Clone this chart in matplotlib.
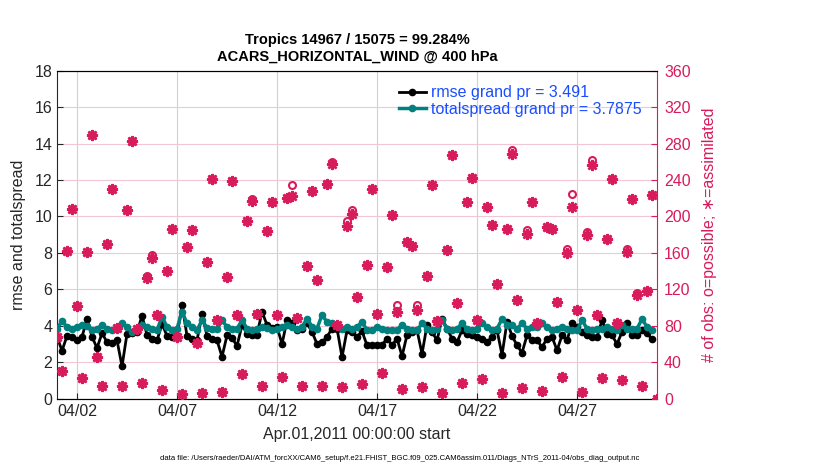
import matplotlib
matplotlib.use("Agg")
import matplotlib.pyplot as plt
import matplotlib.dates as mdates
import numpy as np
import pandas as pd

plt.rcParams['font.family'] = ['Liberation Sans', 'DejaVu Sans']

# 6-hourly bins, Apr 01 00Z .. May 01 00Z
times = pd.date_range("2011-04-01 00:00", "2011-05-01 00:00", freq="6h")

rmse = [3.40, 2.63, 3.45, 3.40, 3.20, 3.40, 4.37, 3.40, 2.78, 3.60,
        3.10, 3.07, 3.20, 1.78, 3.57, 3.60, 3.65, 4.55, 3.50, 3.30,
        3.20, 4.10, 3.45, 3.40, 3.44, 5.15, 3.45, 3.30, 3.20, 4.65,
        3.45, 3.30, 3.20, 2.30, 3.48, 3.33, 2.90, 4.04, 3.57, 3.50,
        3.50, 4.78, 4.04, 3.90, 3.94, 3.00, 4.30, 4.13, 3.76, 3.85,
        4.13, 3.67, 3.00, 3.10, 3.40, 3.85, 3.85, 2.28, 3.76, 3.67,
        3.40, 3.70, 2.93, 2.93, 2.93, 2.95, 3.30, 2.93, 3.30, 2.33,
        3.50, 3.67, 3.76, 2.46, 4.04, 3.67, 3.20, 4.40, 3.85, 3.30,
        3.10, 3.76, 3.57, 3.48, 3.40, 3.30, 3.10, 3.40, 3.76, 2.40,
        4.22, 3.45, 2.93, 2.52, 3.48, 3.20, 3.20, 2.83, 3.30, 3.40,
        2.65, 3.48, 3.20, 4.13, 3.94, 3.67, 3.48, 3.40, 3.40, 4.30,
        3.57, 3.48, 3.00, 3.67, 4.13, 3.48, 3.48, 3.76, 3.60, 3.25,
        np.nan]

totalspread = [3.85, 4.26, 3.94, 3.85, 3.94, 4.07, 4.00, 3.76, 3.85, 4.04,
               3.85, 3.76, 3.85, 4.13, 3.94, 3.67, 3.85, 4.07, 3.94, 3.85,
               3.76, 4.50, 3.94, 3.76, 3.85, 4.78, 4.13, 3.94, 3.76, 4.30,
               3.90, 3.85, 3.82, 4.30, 3.94, 3.85, 3.85, 4.30, 3.85, 3.76,
               3.85, 3.94, 3.90, 3.76, 3.85, 3.94, 4.04, 3.94, 3.85, 3.94,
               4.40, 3.94, 3.85, 4.60, 4.20, 4.13, 4.04, 3.85, 3.94, 3.85,
               3.94, 4.22, 3.76, 3.76, 3.94, 3.85, 3.76, 3.76, 3.76, 4.07,
               3.85, 3.76, 3.76, 4.13, 3.85, 3.76, 3.85, 4.30, 3.85, 3.76,
               3.85, 4.13, 3.85, 3.76, 3.85, 4.13, 3.94, 3.76, 3.85, 4.37,
               4.07, 4.04, 3.85, 4.13, 3.85, 3.94, 3.94, 4.13, 3.94, 3.76,
               3.85, 3.94, 3.85, 3.76, 3.76, 4.30, 3.85, 3.76, 3.85, 3.85,
               3.94, 3.85, 3.76, 4.04, 3.85, 3.85, 3.85, 4.37, 3.94, 3.77,
               np.nan]

obs_used = [68, 30, 162, 208, 102, 23, 161, 289, 46, 14,
            170, 230, 78, 14, 207, 283, 76, 17, 132, 154,
            92, 10, 140, 186, 68, 5, 166, 185, 61, 6,
            150, 241, 86, 7, 134, 239, 92, 27, 195, 217,
            93, 14, 184, 216, 92, 24, 220, 223, 89, 14,
            146, 228, 130, 14, 236, 258, 81, 13, 190, 203,
            112, 16, 147, 230, 93, 28, 145, 202, 95, 11,
            172, 168, 97, 13, 135, 235, 85, 6, 163, 268,
            105, 17, 216, 242, 86, 22, 210, 191, 126, 6,
            186, 269, 108, 12, 181, 216, 83, 9, 188, 186,
            106, 24, 160, 210, 97, 7, 180, 256, 92, 23,
            175, 241, 83, 20, 161, 219, 114, 14, 118, 224,
            0]

obs_possible = [68, 30, 162, 208, 102, 23, 161, 289, 46, 14,
                170, 230, 78, 14, 207, 283, 76, 17, 135, 158,
                92, 10, 140, 186, 68, 5, 166, 185, 61, 6,
                150, 241, 86, 7, 134, 239, 92, 27, 195, 219,
                93, 14, 184, 216, 92, 24, 220, 234, 89, 14,
                146, 228, 130, 14, 236, 260, 81, 13, 195, 207,
                112, 16, 147, 230, 93, 28, 145, 202, 103, 11,
                172, 168, 103, 13, 135, 235, 85, 6, 163, 268,
                105, 17, 216, 242, 86, 22, 210, 191, 126, 6,
                186, 273, 108, 12, 185, 216, 83, 9, 188, 186,
                106, 24, 164, 225, 97, 7, 183, 262, 92, 23,
                175, 241, 83, 20, 164, 219, 116, 14, 118, 224,
                0]

tick_days = ["2011-04-02", "2011-04-07", "2011-04-12", "2011-04-17",
             "2011-04-22", "2011-04-27"]

rmse_label = "rmse grand pr = 3.491"
spread_label = "totalspread grand pr = 3.7875"
title_text = "Tropics 14967 / 15075 = 99.284%\nACARS_HORIZONTAL_WIND @ 400 hPa"
datafile = ("data file: /Users/raeder/DAI/ATM_forcXX/CAM6_setup/"
            "f.e21.FHIST_BGC.f09_025.CAM6assim.011/Diags_NTrS_2011-04/obs_diag_output.nc")

obs_color = "#d81b5a"
teal = "#00807e"
dark = "#262626"

fig = plt.figure(figsize=(8.3, 4.7), dpi=100)
ax = fig.add_axes([0.0687, 0.1517, 0.7229, 0.6979])
ax2 = ax.twinx()

# obs counts on right axis: o = possible, asterisk = assimilated
ax2.plot(times, obs_possible, linestyle="none", marker="o", markersize=5,
         mfc="none", mec=obs_color, mew=1.5, zorder=2)
ax2.plot(times, obs_used, linestyle="none", marker=(8, 2, 0), markersize=8,
         color=obs_color, mew=1.8, zorder=3)
ax2.plot(times, obs_used, linestyle="none", marker="o", markersize=5,
         color=obs_color, mew=0, zorder=3)

l1, = ax.plot(times, rmse, color="black", linewidth=2, marker="o",
              markersize=4.5, label=rmse_label, zorder=3)
l2, = ax.plot(times, totalspread, color=teal, linewidth=2.5, marker="o",
              markersize=4.5, label=spread_label, zorder=4)

ax.set_xlim(times[0], times[-1])
ax.set_ylim(0, 18)
ax.set_yticks(np.arange(0, 19, 2))
ax2.set_ylim(0, 360)
ax2.set_yticks(np.arange(0, 361, 40))

ax.set_xticks(pd.to_datetime(tick_days))
ax.xaxis.set_major_formatter(mdates.DateFormatter("%m/%d"))

ax.grid(True, axis="x", color="#d0d0d0", linewidth=0.8)
ax.grid(True, axis="y", color="#f2c6d6", linewidth=0.8)
ax.set_axisbelow(True)

ax.tick_params(axis="both", direction="in", labelsize=11.5, colors=dark, length=4)
ax2.tick_params(axis="y", direction="in", labelsize=11.5, colors=obs_color, length=4,
                pad=5)
for s in ["left", "bottom", "top"]:
    ax.spines[s].set_color(dark)
ax2.spines["right"].set_color(obs_color)
ax2.spines["left"].set_visible(False)
ax.spines["right"].set_visible(False)

ax.set_ylabel("rmse and totalspread", fontsize=11.5, color=dark, labelpad=6)
ax2.set_ylabel("# of obs: o=possible; \u2217=assimilated", fontsize=11.5,
               color=obs_color, labelpad=8)
ax.set_xlabel("Apr.01,2011 00:00:00 start", fontsize=11.5, color=dark, labelpad=6)
ax.set_title(title_text, fontsize=10.5, fontweight="bold", pad=7, linespacing=1.3)

leg = ax2.legend([l1, l2], [rmse_label, spread_label], loc="upper right",
                 bbox_to_anchor=(0.99, 0.985), frameon=False, fontsize=11.5,
                 labelcolor="#1a4dff", handlelength=1.7, handletextpad=0.3,
                 borderaxespad=0.2, labelspacing=0.1)

fig.text(0.481, 0.025, datafile, fontsize=5.5, ha="center", va="center", color="black")

fig.savefig("out.png", dpi=100, facecolor="white")
